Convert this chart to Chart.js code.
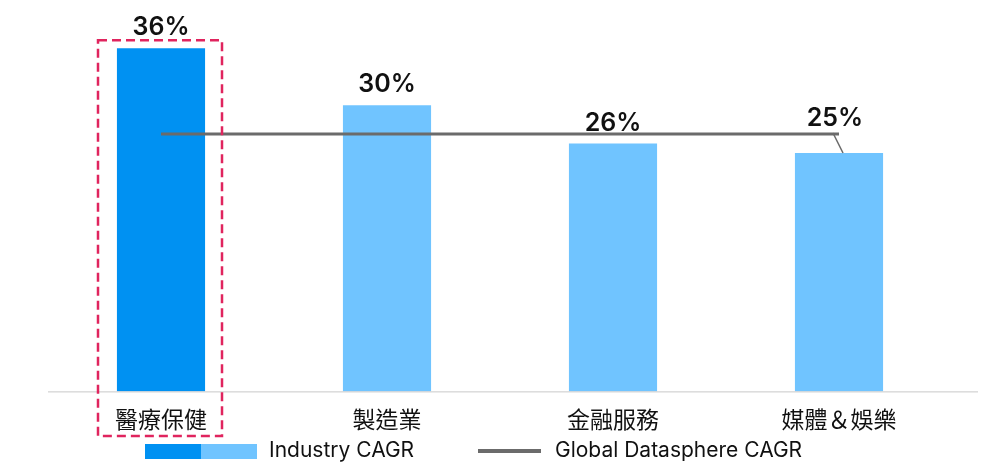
<!DOCTYPE html>
<html lang="zh-Hant">
<head>
  <meta charset="UTF-8" />
  <title>Industry CAGR</title>
  <script src="https://cdn.jsdelivr.net/npm/chart.js"></script>
  <style>
    html, body { margin: 0; background: #fff; }
    #wrap { width: 1000px; height: 475px; }
  </style>
</head>
<body>
  <div id="wrap"><canvas id="cagrChart"></canvas></div>
  <script>
    const categories = ["醫療保健", "製造業", "金融服務", "媒體＆娛樂"];
    const industryCagr = [36, 30, 26, 25];
    const globalCagr = [27, 27, 27, 27];
    const legendLabels = ["Industry CAGR", "Global Datasphere CAGR"];

    const FONT = "Inter, 'Noto Sans CJK TC', sans-serif";
    const darkBlue = "#0091f2";
    const lightBlue = "#70c4ff";
    const gray = "#6b6b6b";

    // value labels, highlight box, baseline and legend
    const decorations = {
      id: "decorations",
      afterDatasetsDraw(chart) {
        const ctx = chart.ctx;
        const bars = chart.getDatasetMeta(1).data;
        const area = chart.chartArea;
        ctx.save();

        // baseline
        ctx.strokeStyle = "#c8c8c8";
        ctx.lineWidth = 1;
        ctx.beginPath();
        ctx.moveTo(area.left, area.bottom + 0.5);
        ctx.lineTo(978, area.bottom + 0.5);
        ctx.stroke();

        // value labels
        ctx.fillStyle = "#111";
        ctx.font = "600 25px " + FONT;
        ctx.textAlign = "center";
        ctx.textBaseline = "bottom";
        bars.forEach((b, i) => {
          let x = b.x, y = b.y - 8;
          if (i === 3) { x = b.x - 4; y = b.y - 22; }
          ctx.fillText(industryCagr[i] + "%", x, y);
        });

        // leader line for last label
        const last = bars[3];
        ctx.strokeStyle = gray;
        ctx.lineWidth = 1.5;
        ctx.beginPath();
        ctx.moveTo(last.x - 6, last.y - 20);
        ctx.lineTo(last.x + 4, last.y);
        ctx.stroke();

        // dashed highlight box
        const first = bars[0];
        ctx.strokeStyle = "#e0245e";
        ctx.lineWidth = 2.5;
        ctx.setLineDash([9, 5]);
        ctx.strokeRect(first.x - 63, first.y - 8, 124, 436 - (first.y - 8));
        ctx.setLineDash([]);

        // legend
        const ly = 451;
        ctx.fillStyle = darkBlue;
        ctx.fillRect(145, ly - 7, 56, 15);
        ctx.fillStyle = lightBlue;
        ctx.fillRect(201, ly - 7, 56, 15);
        ctx.strokeStyle = gray;
        ctx.lineWidth = 4;
        ctx.beginPath();
        ctx.moveTo(478, ly);
        ctx.lineTo(541, ly);
        ctx.stroke();
        ctx.fillStyle = "#111";
        ctx.font = "21px " + FONT;
        ctx.textAlign = "left";
        ctx.textBaseline = "middle";
        ctx.fillText(legendLabels[0], 269, ly);
        ctx.fillText(legendLabels[1], 555, ly);
        ctx.restore();
      }
    };

    new Chart(document.getElementById("cagrChart"), {
      type: "bar",
      data: {
        labels: categories,
        datasets: [
          {
            type: "line",
            label: legendLabels[1],
            data: globalCagr,
            borderColor: gray,
            borderWidth: 3,
            pointRadius: 0,
            order: 0
          },
          {
            label: legendLabels[0],
            data: industryCagr,
            backgroundColor: industryCagr.map((v, i) => i === 0 ? darkBlue : lightBlue),
            barPercentage: 0.39,
            categoryPercentage: 1,
            order: 1
          }
        ]
      },
      options: {
        responsive: true,
        maintainAspectRatio: false,
        animation: false,
        layout: { padding: { top: 10, left: 48, right: 48, bottom: 32 } },
        plugins: { legend: { display: false }, tooltip: { enabled: false } },
        scales: {
          x: {
            grid: { display: false },
            border: { display: false },
            ticks: { color: "#111", font: { family: FONT, size: 23 }, padding: 8 }
          },
          y: { display: false, min: 0, max: 40 }
        }
      },
      plugins: [decorations]
    });
  </script>
</body>
</html>
